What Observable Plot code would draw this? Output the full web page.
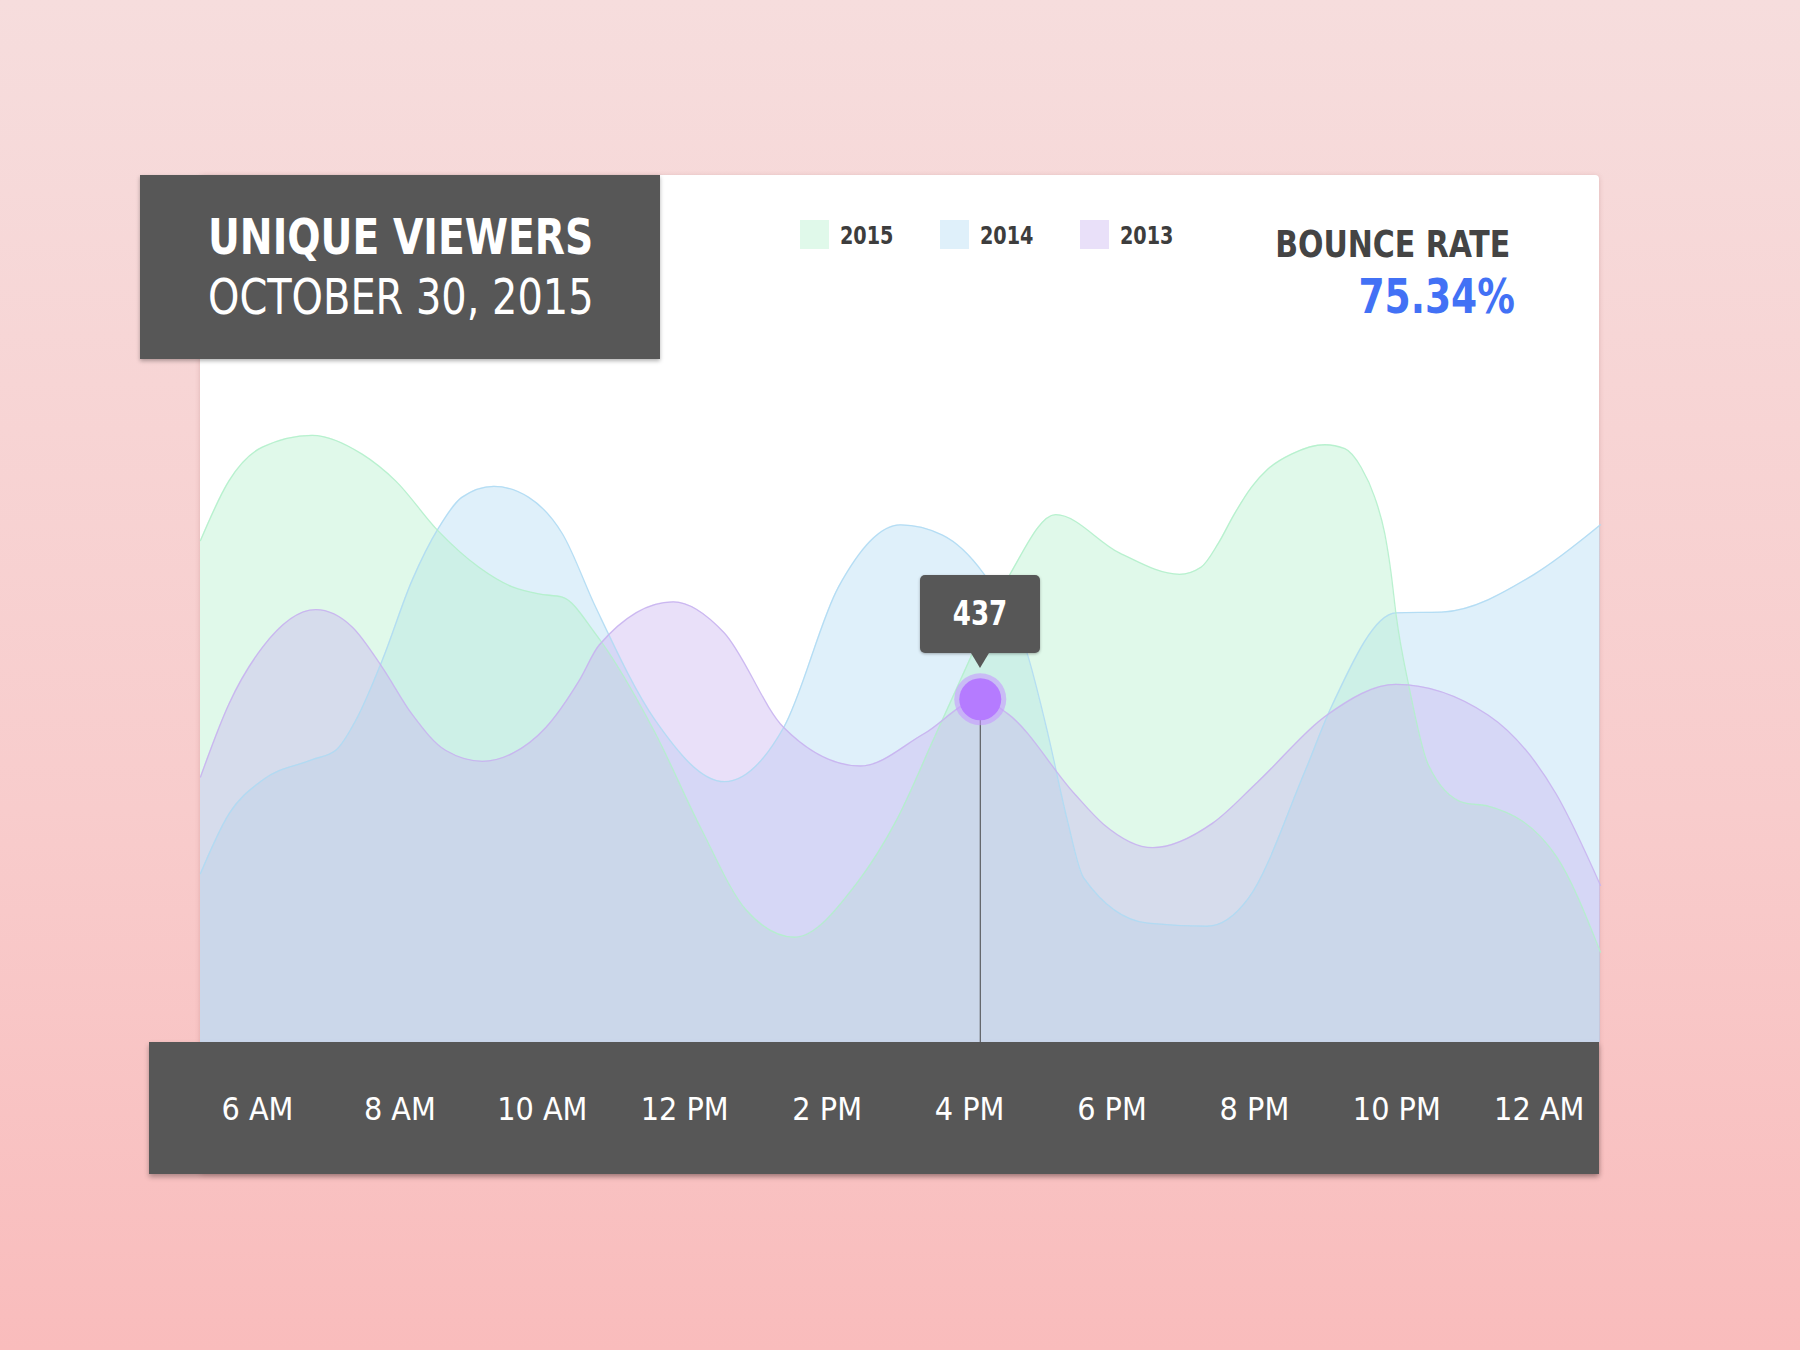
<!DOCTYPE html>
<html>
<head>
<meta charset="utf-8">
<script src="https://cdn.jsdelivr.net/npm/d3@7"></script>
<script src="https://cdn.jsdelivr.net/npm/@observablehq/plot@0.6"></script>
<style>
html,body{margin:0;padding:0;}
body{width:1800px;height:1350px;position:relative;overflow:hidden;
  background:linear-gradient(to bottom,#f6dddd 0%,#f8cccc 60%,#f9bcbc 100%);
  font-family:"Liberation Sans Narrow","DejaVu Sans Condensed","DejaVu Sans",sans-serif;}
.abs{position:absolute;}
#card{left:200px;top:175px;width:1399px;height:999px;background:#fff;border-radius:4px;box-shadow:0 1px 5px rgba(150,80,80,0.25);}
#titlebox{left:140px;top:175px;width:520px;height:184px;background:#575757;box-shadow:0 2px 4px rgba(0,0,0,0.3);}
#bar{left:149px;top:1042px;width:1450px;height:132px;background:#575757;box-shadow:0 3px 5px rgba(0,0,0,0.3);}
.t{line-height:1;white-space:nowrap;}
.sl{transform-origin:left center;}
.sr{transform-origin:right center;}
#chart{left:0;top:0;}
.sw{width:29px;height:29px;top:220px;}
.lg{top:224px;font-size:24px;font-weight:bold;color:#3d3d3d;transform:scaleX(0.89);}
#tip{background:#575757;border-radius:5px;width:120px;height:78px;color:#fff;font-weight:bold;font-size:33px;
  display:flex;align-items:center;justify-content:center;box-shadow:0 1px 3px rgba(0,0,0,0.3);}
#tip span{display:inline-block;transform:scaleX(0.88);}
#arrow{width:0;height:0;border-left:9px solid transparent;border-right:9px solid transparent;border-top:15px solid #575757;}
</style>
</head>
<body>
<div id="card" class="abs"></div>
<div id="bar" class="abs"></div>
<div id="titlebox" class="abs"></div>
<div class="abs t sl" style="left:208px;top:213px;font-size:49px;font-weight:bold;color:#fff;transform:scaleX(0.89);">UNIQUE VIEWERS</div>
<div class="abs t sl" style="left:208px;top:273px;font-size:49px;color:#fff;transform:scaleX(0.905);">OCTOBER 30, 2015</div>
<div id="legend"></div>
<div class="abs t sr" style="right:290px;top:226px;font-size:37px;font-weight:bold;color:#444;transform:scaleX(0.9);">BOUNCE RATE</div>
<div class="abs t sr" style="right:285px;top:272px;font-size:48px;font-weight:bold;color:#4271f5;transform:scaleX(0.87);">75.34%</div>
<div id="chart" class="abs"></div>
<div id="tipwrap" class="abs" style="display:flex;flex-direction:column;align-items:center;">
  <div id="tip"><span id="tiptext"></span></div><div id="arrow"></div>
</div>
<script>
// ---- data (hour of day, unique viewers) ----
const hours2015 = [5.2, 5.60, 6.07, 6.77, 7.47, 7.94, 8.53, 9.11, 9.58, 9.95, 10.28, 10.75, 11.58, 12.22, 12.86, 13.54, 14.41, 14.98, 15.50, 16.02, 16.58, 17.21, 18.11, 18.95, 19.25, 19.49, 19.72, 19.96, 20.19, 20.52, 20.99, 21.27, 21.50, 21.69, 21.83, 21.92, 21.99, 22.18, 22.44, 22.95, 23.28, 24.24, 24.86];
const values2015 = [639, 715, 758, 773, 749, 715, 652, 605, 580, 571, 567, 520, 395, 274, 169, 134, 202, 284, 387, 491, 598, 672, 623, 596, 605, 635, 673, 707, 730, 749, 761, 756, 732, 694, 648, 597, 544, 449, 354, 305, 301, 237, 115];

const hours2014 = [5.2, 5.60, 6.07, 6.77, 7.10, 7.38, 7.75, 8.17, 8.55, 8.87, 9.32, 9.81, 10.28, 10.75, 11.58, 12.56, 13.39, 14.16, 15.03, 15.62, 16.19, 16.81, 17.10, 17.37, 17.60, 18.50, 19.34, 19.92, 20.70, 21.08, 21.99, 22.63, 23.93, 24.86];
const values2014 = [215, 291, 334, 360, 372, 410, 486, 588, 656, 694, 708, 694, 648, 554, 411, 332, 401, 580, 659, 646, 598, 495, 393, 284, 210, 152, 148, 184, 343, 427, 547, 548, 596, 659];

const hours2013 = [5.2, 5.60, 6.07, 6.82, 7.33, 7.75, 8.17, 8.64, 9.16, 9.58, 10.05, 10.52, 10.80, 11.84, 12.55, 13.39, 14.47, 15.36, 16.15, 16.53, 17.47, 17.88, 18.57, 19.41, 20.05, 21.02, 21.99, 23.28, 24.24, 24.86];
const values2013 = [338, 431, 503, 551, 529, 478, 418, 372, 358, 368, 401, 461, 506, 561, 522, 401, 352, 393, 437, 419, 317, 278, 248, 279, 332, 417, 456, 417, 316, 200];

const seriesNames = ["2015", "2014", "2013"];
const seriesColors = ["#b2f0cb", "#afdaf3", "#c8b2f0"];
const swatchColors = ["#e0f9ea", "#dff0fa", "#e9e0f9"];

const tickHours = [6, 8, 10, 12, 14, 16, 18, 20, 22, 24];
const tickLabels = ["6 AM", "8 AM", "10 AM", "12 PM", "2 PM", "4 PM", "6 PM", "8 PM", "10 PM", "12 AM"];

const highlightSeries = "2013";
const highlightHour = 16.15;

// ---- build ----
const toRows = (hs, vs, s) => hs.map((h, i) => ({hour: h, value: vs[i], series: s}));
const d2015 = toRows(hours2015, values2015, "2015");
const d2014 = toRows(hours2014, values2014, "2014");
const d2013 = toRows(hours2013, values2013, "2013");
const colorOf = s => seriesColors[seriesNames.indexOf(s)];
const hl = d2013.find(d => d.hour === highlightHour);

const CURVE = "monotone-x";
// draw order: 2014 bottom, 2015, 2013 top
const layers = [d2014, d2015, d2013];
const marks = [];
for (const rows of layers) {
  const c = colorOf(rows[0].series);
  marks.push(Plot.areaY(rows, {x: "hour", y: "value", curve: CURVE, fill: c, fillOpacity: 0.4}));
}
for (const rows of layers) {
  const c = colorOf(rows[0].series);
  marks.push(Plot.lineY(rows, {x: "hour", y: "value", curve: CURVE, stroke: c, strokeWidth: 1.3, strokeOpacity: 0.9}));
}
marks.push(Plot.ruleX([hl], {x: "hour", y1: 0, y2: "value", stroke: "#444", strokeWidth: 1}));
marks.push(Plot.dot([hl], {x: "hour", y: "value", r: 26, fill: "#c69aff", fillOpacity: 0.6, ariaLabel: "glow"}));
marks.push(Plot.dot([hl], {x: "hour", y: "value", r: 21, fill: "#b57bff"}));
marks.push(Plot.axisX({ticks: tickHours, tickFormat: d => tickLabels[tickHours.indexOf(d)], tickSize: 0, tickPadding: 55, fontSize: 32, fill: "#fff", color: "#fff", label: null}));

const chart = Plot.plot({
  width: 1800, height: 1350,
  marginLeft: 200, marginRight: 200, marginTop: 413.6, marginBottom: 308,
  style: {background: "transparent", overflow: "visible", fontFamily: '"Liberation Sans Narrow","DejaVu Sans Condensed","DejaVu Sans",sans-serif', maxWidth: "none"},
  x: {domain: [5.2, 24.86], label: null},
  y: {domain: [0, 800], axis: null},
  marks
});
document.getElementById("chart").appendChild(chart);
d3.select(chart).select('[aria-label="glow"]').style("filter", "blur(6px)");

// legend
const lg = document.getElementById("legend");
seriesNames.forEach((s, i) => {
  const sw = document.createElement("div");
  sw.className = "abs sw"; sw.style.left = (800 + i * 140) + "px"; sw.style.background = swatchColors[i];
  lg.appendChild(sw);
  const t = document.createElement("div");
  t.className = "abs t lg sl"; t.style.left = (840 + i * 140) + "px"; t.textContent = s;
  lg.appendChild(t);
});

// tooltip positioned through the chart scales
const px = chart.scale("x").apply(hl.hour);
const py = chart.scale("y").apply(hl.value);
document.getElementById("tiptext").textContent = hl.value;
const tw = document.getElementById("tipwrap");
tw.style.left = (px - 60) + "px";
tw.style.top = (py - 31 - 15 - 78) + "px";
tw.style.width = "120px";
</script>
</body>
</html>
